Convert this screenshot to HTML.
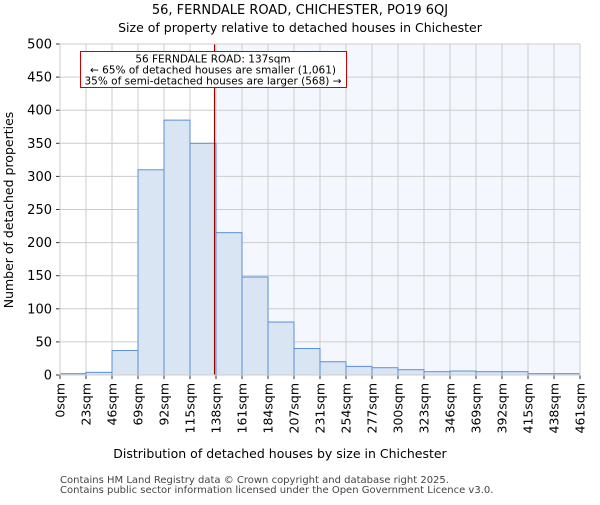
<!DOCTYPE html>
<html><head><meta charset="utf-8"><style>
body{margin:0;background:#fff}
svg{font-family:"DejaVu Sans","Liberation Sans",sans-serif}
</style></head><body>
<svg id="c" width="600" height="500" xmlns="http://www.w3.org/2000/svg">
<text x="300" y="14" text-anchor="middle" font-size="13">56, FERNDALE ROAD, CHICHESTER, PO19 6QJ</text>
<text x="300" y="32" text-anchor="middle" font-size="12.5">Size of property relative to detached houses in Chichester</text>
<g id="plot"></g>
<text x="280" y="458" text-anchor="middle" font-size="12.5">Distribution of detached houses by size in Chichester</text>
<text transform="translate(13,210) rotate(-90)" text-anchor="middle" font-size="12.5">Number of detached properties</text>
<text x="60" y="483" font-size="10" fill="#444">Contains HM Land Registry data © Crown copyright and database right 2025.</text>
<text x="60" y="493" font-size="10" fill="#444">Contains public sector information licensed under the Open Government Licence v3.0.</text>
</svg>
<script>
const tickLabels=["0sqm","23sqm","46sqm","69sqm","92sqm","115sqm","138sqm","161sqm","184sqm","207sqm","231sqm","254sqm","277sqm","300sqm","323sqm","346sqm","369sqm","392sqm","415sqm","438sqm","461sqm"];
const counts=[2,4,37,310,385,350,215,148,80,40,20,13,11,8,5,6,5,5,2,2];
const yTicks=[0,50,100,150,200,250,300,350,400,450,500];
const propertySize=137;
const binWidth=461/20;
const NS="http://www.w3.org/2000/svg";
const L=60,R=580,T=44,B=375;
const xs=v=>L+(v/(binWidth*counts.length))*(R-L);
const xb=i=>L+i*(R-L)/counts.length;
const ys=v=>B-(v/500)*(B-T);
const g=document.getElementById('plot');
function mk(t,a){const e=document.createElementNS(NS,t);for(const k in a)e.setAttribute(k,a[k]);g.appendChild(e);return e;}
const px=xs(propertySize);
let e=mk('rect',{x:px,y:T,width:R-px,height:B-T,fill:'#f4f7fd'});


for(let i=0;i<tickLabels.length;i++){
 e=mk('line',{x1:xb(i),x2:xb(i),y1:T,y2:B,stroke:'#cccccc','stroke-width':1});
 
 
 e=mk('line',{x1:xb(i),x2:xb(i),y1:B,y2:B+4,stroke:'#333'});
 
 
 e=mk('text',{transform:`translate(${xb(i)+4.5},${B+8}) rotate(-90)`,'text-anchor':'end','font-size':12.5});
 e.textContent=tickLabels[i];
 
 
}
yTicks.forEach(v=>{
 e=mk('line',{x1:L,x2:R,y1:ys(v),y2:ys(v),stroke:'#cccccc'});
 
 
 e=mk('line',{x1:L-4,x2:L,y1:ys(v),y2:ys(v),stroke:'#333'});
 
 
 e=mk('text',{x:L-8,y:ys(v)+4.5,'text-anchor':'end','font-size':13});
 e.textContent=v;
 
 
});
counts.forEach((c,i)=>{
 e=mk('rect',{x:xb(i),y:ys(c),width:xb(i+1)-xb(i),height:B-ys(c),fill:'#dae5f4',stroke:'#5b8fd6','stroke-width':1});
 
 
});
e=mk('line',{x1:px,x2:px,y1:T,y2:B,stroke:'#990000','stroke-width':1.2});


e=mk('rect',{x:80.5,y:51.5,width:266,height:36,fill:'#fff',stroke:'#cc0000'});


const ann=["56 FERNDALE ROAD: 137sqm","← 65% of detached houses are smaller (1,061)","35% of semi-detached houses are larger (568) →"];
ann.forEach((t,i)=>{
 e=mk('text',{x:213,y:62.5+i*11,'text-anchor':'middle','font-size':10.5});
 e.textContent=t;
 
 
});
e=mk('rect',{x:L,y:T,width:R-L,height:B-T,fill:'none',stroke:'#cccccc'});


</script>
</body></html>
